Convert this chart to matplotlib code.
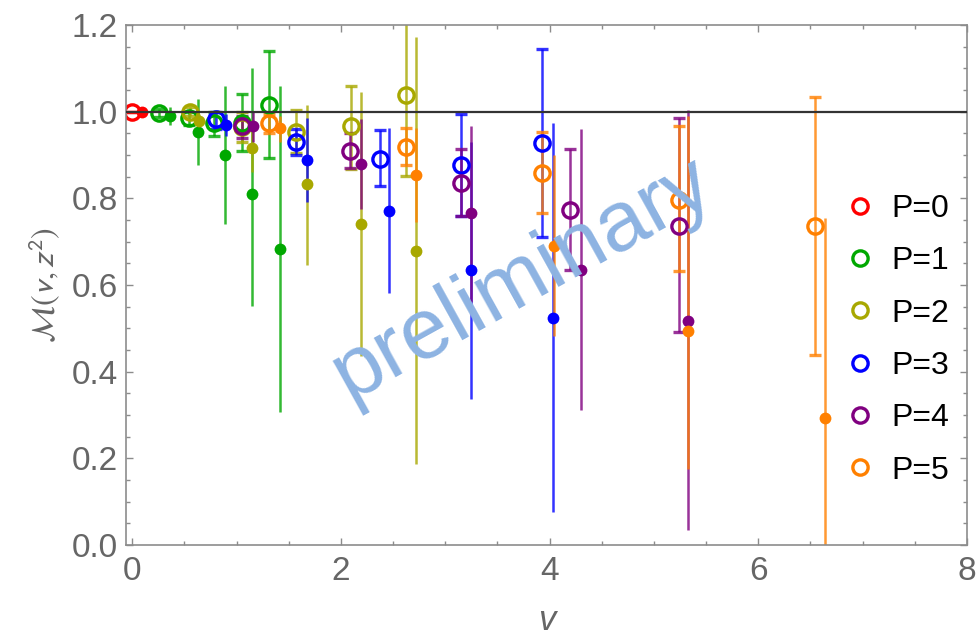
import matplotlib
matplotlib.use('Agg')
import matplotlib.pyplot as plt
from matplotlib.colors import to_rgba
from matplotlib.lines import Line2D
from matplotlib.ticker import MultipleLocator, FormatStrFormatter

# momentum labels and colours
momenta = ['P=0', 'P=1', 'P=2', 'P=3', 'P=4', 'P=5']
colors = ['#ff0000', '#00a800', '#a8a800', '#0000ff', '#800080', '#ff8000']

# open symbols: nu, central value, lower / upper end of error bar
nu_open = [
    [0.0],
    [0.26, 0.54, 0.78, 1.05, 1.31],
    [0.55, 1.05, 1.57, 2.10, 2.625],
    [0.80, 1.57, 2.37, 3.15, 3.93],
    [1.05, 2.09, 3.15, 4.195, 5.24],
    [1.31, 2.625, 3.93, 5.24, 6.54],
]
m_open = [
    [1.0],
    [0.997, 0.985, 0.975, 0.975, 1.016],
    [1.0, 0.965, 0.953, 0.966, 1.038],
    [0.982, 0.931, 0.891, 0.876, 0.928],
    [0.966, 0.909, 0.836, 0.774, 0.737],
    [0.974, 0.918, 0.858, 0.797, 0.736],
]
lo_open = [
    [1.0],
    [0.987, 0.97, 0.943, 0.91, 0.893],
    [0.99, 0.93, 0.904, 0.867, 0.852],
    [0.96, 0.90, 0.829, 0.760, 0.710],
    [0.94, 0.87, 0.76, 0.635, 0.492],
    [0.95, 0.876, 0.766, 0.632, 0.438],
]
hi_open = [
    [1.0],
    [1.007, 1.0, 1.0, 1.04, 1.14],
    [1.01, 1.0, 1.005, 1.06, 1.25],
    [1.0, 0.96, 0.957, 0.994, 1.145],
    [0.99, 0.95, 0.913, 0.913, 0.986],
    [0.995, 0.962, 0.952, 0.967, 1.035],
]

# filled symbols
nu_filled = [
    [0.09],
    [0.36, 0.63, 0.89, 1.15, 1.42],
    [0.635, 1.15, 1.67, 2.195, 2.72],
    [0.90, 1.67, 2.465, 3.25, 4.035],
    [1.16, 2.195, 3.25, 4.30, 5.33],
    [1.42, 2.72, 4.04, 5.33, 6.64],
]
m_filled = [
    [1.0],
    [0.99, 0.954, 0.90, 0.81, 0.683],
    [0.978, 0.916, 0.833, 0.740, 0.679],
    [0.97, 0.888, 0.771, 0.634, 0.525],
    [0.966, 0.879, 0.765, 0.634, 0.518],
    [0.962, 0.854, 0.691, 0.493, 0.293],
]
lo_filled = [
    [1.0],
    [0.97, 0.877, 0.741, 0.552, 0.306],
    [0.96, 0.86, 0.647, 0.437, 0.186],
    [0.945, 0.792, 0.581, 0.336, 0.076],
    [0.93, 0.776, 0.561, 0.311, 0.035],
    [0.93, 0.745, 0.483, 0.175, -0.17],
]
hi_filled = [
    [1.0],
    [1.01, 1.03, 1.06, 1.10, 1.06],
    [0.995, 0.98, 1.016, 1.046, 1.172],
    [0.995, 0.986, 0.962, 0.931, 0.973],
    [1.0, 0.983, 0.968, 0.959, 1.005],
    [0.99, 0.962, 0.899, 0.99, 0.755],
]

GRAY_TEXT = '#666666'
GRAY_FRAME = '#8c8c8c'


def draw_series(ax, nu, m, lo, hi, color, filled):
    yerr = [[v - l for v, l in zip(m, lo)], [h - v for v, h in zip(m, hi)]]
    if filled:
        style = dict(mfc=color, mec=color, ms=8.5, mew=0)
    else:
        style = dict(mfc='none', mec=color, ms=11, mew=2.4)
    ax.errorbar(nu, m, yerr=yerr, fmt='o', ecolor=to_rgba(color, 0.8),
                elinewidth=1.8, capsize=4.5, capthick=1.8, zorder=2, **style)


def main():
    plt.rcParams['font.family'] = ['Liberation Sans', 'DejaVu Sans']
    plt.rcParams['mathtext.fontset'] = 'stixsans'

    fig = plt.figure(figsize=(9.77, 6.35), dpi=100)
    ax = fig.add_axes([126 / 977, 90 / 635, 841 / 977, 520 / 635])

    ax.axhline(1.0, color='#333333', lw=1.6, zorder=3)

    for i, c in enumerate(colors):
        draw_series(ax, nu_open[i], m_open[i], lo_open[i], hi_open[i], c, False)
        draw_series(ax, nu_filled[i], m_filled[i], lo_filled[i], hi_filled[i], c, True)

    ax.set_xlim(-0.06, 8)
    ax.set_ylim(0, 1.2)
    ax.xaxis.set_major_locator(MultipleLocator(2))
    ax.xaxis.set_minor_locator(MultipleLocator(0.5))
    ax.yaxis.set_major_locator(MultipleLocator(0.2))
    ax.yaxis.set_minor_locator(MultipleLocator(0.05))
    ax.yaxis.set_major_formatter(FormatStrFormatter('%.1f'))

    ax.tick_params(which='both', direction='in', top=True, right=True,
                   color=GRAY_FRAME, labelcolor=GRAY_TEXT, labelsize=24)
    ax.tick_params(which='major', length=5, width=1)
    ax.tick_params(which='minor', length=3, width=1)
    ax.tick_params(axis='x', pad=8)
    ax.tick_params(axis='y', pad=6)
    for sp in ax.spines.values():
        sp.set_color(GRAY_FRAME)
        sp.set_linewidth(1.2)

    ax.set_xlabel('v', fontsize=25, color=GRAY_TEXT, style='italic', labelpad=12)
    ax.set_ylabel(r'$\mathcal{M}(v,z^2)$', fontsize=23, color=GRAY_TEXT, labelpad=6)

    handles = [Line2D([], [], marker='o', ls='none', mfc='none', mec=c, ms=11, mew=2.4)
               for c in colors]
    fig.legend(handles, momenta, loc='center left', bbox_to_anchor=(831 / 977, 0.465),
               frameon=False, fontsize=23, handlelength=1.0, handletextpad=0.5,
               labelspacing=0.70, borderaxespad=0)

    fig.text(0.535, 0.56, 'preliminary', rotation=29, fontsize=62, color='#8db3e2',
             ha='center', va='center', zorder=10)

    fig.savefig('out.png', dpi=100)
    plt.close(fig)


if __name__ == '__main__':
    main()
